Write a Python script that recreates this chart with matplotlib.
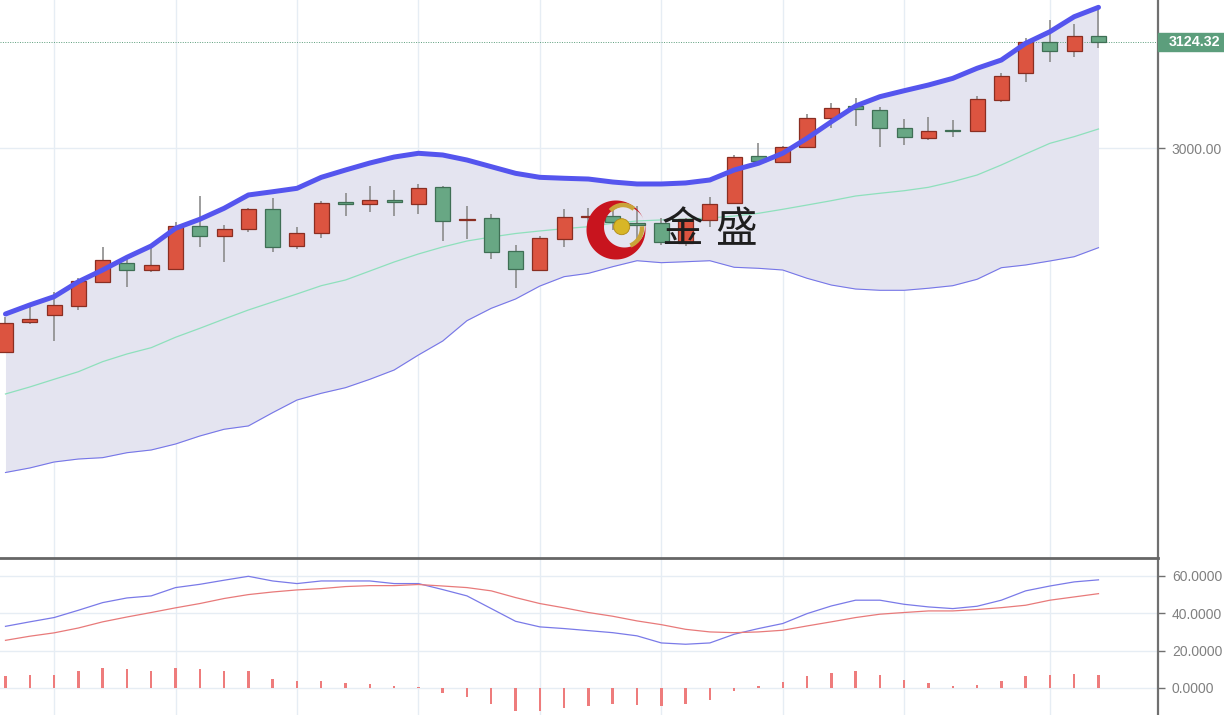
import numpy as np
import matplotlib
matplotlib.use("Agg")
import matplotlib.pyplot as plt
from matplotlib.patches import Circle, Rectangle, Arc, PathPatch
from matplotlib.path import Path
import matplotlib.transforms as mtransforms

# ---- price candles (index 0..45) ----
opens = [2761.1, 2795.9, 2804.1, 2815.0, 2843.2, 2865.5, 2856.9, 2858.1, 2908.5, 2897.1,
         2905.0, 2928.5, 2885.1, 2900.0, 2937.0, 2934.0, 2939.4, 2934.7, 2954.6, 2915.9,
         2917.6, 2879.2, 2856.9, 2892.9, 2919.1, 2920.2, 2912.4, 2912.4, 2888.2, 2915.6,
         2935.1, 2991.0, 2983.2, 3001.5, 3034.8, 3049.3, 3044.6, 3023.1, 3012.1, 3020.8,
         3019.9, 3056.3, 3087.6, 3124.0, 3114.1, 3131.7]
highs = [2802.1, 2818.2, 2831.5, 2847.5, 2884.2, 2874.5, 2887.4, 2913.6, 2943.7, 2909.7,
         2930.0, 2941.0, 2907.0, 2938.2, 2947.6, 2955.8, 2950.7, 2957.4, 2955.0, 2932.0,
         2922.6, 2886.2, 2896.8, 2928.1, 2929.3, 2933.1, 2932.0, 2917.6, 2917.6, 2942.9,
         2991.8, 3005.5, 3002.7, 3039.5, 3053.1, 3058.3, 3048.4, 3034.0, 3036.7, 3032.8,
         3061.3, 3088.3, 3128.7, 3150.1, 3145.1, 3166.5]
lows = [2760.5, 2793.6, 2774.0, 2810.0, 2842.0, 2836.6, 2854.2, 2856.9, 2883.5, 2865.9,
        2901.8, 2878.4, 2881.2, 2894.1, 2920.2, 2925.3, 2920.2, 2922.9, 2891.3, 2892.9,
        2869.8, 2835.5, 2856.0, 2884.2, 2908.5, 2903.8, 2886.2, 2886.2, 2885.1, 2907.7,
        2934.5, 2980.1, 2982.4, 3001.0, 3023.8, 3026.2, 3000.8, 3003.5, 3009.4, 3012.5,
        3018.4, 3054.3, 3077.8, 3101.2, 3106.4, 3117.6]
closes = [2795.1, 2799.4, 2815.9, 2844.0, 2868.6, 2856.9, 2862.8, 2908.5, 2897.1, 2904.6,
          2928.5, 2883.9, 2900.7, 2935.5, 2934.0, 2939.4, 2936.3, 2953.4, 2914.7, 2916.7,
          2878.4, 2858.1, 2894.1, 2918.7, 2919.9, 2913.6, 2909.7, 2890.1, 2916.4, 2934.3,
          2989.1, 2984.4, 3001.5, 3034.8, 3046.6, 3045.4, 3023.8, 3012.5, 3020.3, 3019.9,
          3057.1, 3084.8, 3124.0, 3114.1, 3131.4, 3124.32]

# ---- bollinger bands ----
boll_upper = [2805.3, 2815.9, 2825.6, 2843.2, 2856.9, 2871.8, 2885.1, 2905.8, 2916.4, 2929.3,
              2944.9, 2948.7, 2952.7, 2965.6, 2974.2, 2982.4, 2989.4, 2993.8, 2991.8, 2985.9,
              2978.1, 2970.3, 2965.6, 2964.5, 2963.6, 2960.1, 2957.8, 2957.8, 2959.0, 2962.5,
              2974.2, 2982.1, 2993.8, 3011.4, 3030.8, 3049.3, 3060.2, 3067.2, 3073.9, 3081.7,
              3093.5, 3103.2, 3122.8, 3136.4, 3154.0, 3165.0]
boll_mid = [2711.5, 2719.7, 2728.7, 2737.6, 2749.4, 2758.4, 2765.8, 2778.0, 2788.5, 2799.4,
            2810.0, 2819.4, 2828.8, 2838.5, 2845.2, 2855.7, 2866.3, 2875.7, 2883.9, 2890.9,
            2895.6, 2899.7, 2902.7, 2905.4, 2907.7, 2911.7, 2914.4, 2915.6, 2916.7, 2917.9,
            2920.2, 2923.4, 2928.1, 2933.1, 2938.2, 2943.7, 2946.9, 2949.9, 2953.9, 2960.5,
            2968.3, 2980.1, 2993.0, 3005.5, 3013.3, 3022.3]
boll_lower = [2619.4, 2624.7, 2631.7, 2635.2, 2636.8, 2642.6, 2645.8, 2652.8, 2662.2, 2670.1,
              2674.0, 2689.6, 2704.4, 2712.3, 2718.9, 2728.7, 2739.6, 2757.2, 2773.6, 2797.5,
              2812.0, 2822.9, 2838.1, 2849.1, 2853.0, 2860.8, 2867.8, 2865.5, 2866.6, 2867.8,
              2860.1, 2858.9, 2856.9, 2847.2, 2839.3, 2834.6, 2833.1, 2833.1, 2835.5, 2838.5,
              2846.0, 2859.6, 2862.8, 2867.5, 2872.5, 2883.1]

# ---- lower indicator ----
ind_fast = [33.0, 35.4, 37.7, 41.6, 45.7, 48.2, 49.3, 53.75, 55.5, 57.7,
            59.8, 57.3, 55.9, 57.3, 57.3, 57.3, 55.9, 55.9, 52.7, 49.3,
            42.5, 35.7, 32.7, 31.8, 30.7, 29.6, 27.9, 24.1, 23.4, 24.1,
            28.75, 31.8, 34.5, 39.8, 43.9, 47.0, 47.0, 44.8, 43.4, 42.5,
            43.75, 47.0, 52.0, 54.6, 56.8, 57.9]
ind_slow = [25.5, 27.7, 29.5, 32.1, 35.4, 38.0, 40.4, 42.9, 45.2, 47.9,
            50.0, 51.4, 52.5, 53.2, 54.3, 54.8, 54.8, 55.4, 54.6, 53.75,
            52.0, 48.4, 45.2, 42.9, 40.4, 38.4, 35.9, 33.9, 31.4, 30.0,
            29.6, 30.0, 30.9, 33.2, 35.4, 37.7, 39.5, 40.4, 41.25, 41.25,
            42.0, 43.0, 44.3, 47.0, 48.75, 50.5]
ind_hist = [6.4, 7.1, 7.1, 8.9, 10.7, 10.2, 8.9, 10.7, 10.2, 8.9,
            8.9, 5.0, 3.6, 3.6, 2.9, 2.1, 0.9, 0.4, -2.7, -4.6,
            -8.75, -12.3, -12.5, -10.7, -9.6, -8.4, -8.9, -9.6, -8.4, -6.6,
            -1.6, 1.1, 3.2, 6.4, 8.2, 8.9, 7.1, 4.1, 2.9, 1.1,
            1.8, 3.6, 6.4, 7.1, 7.7, 6.8]

grid_idx = [2, 7, 12, 17, 22, 27, 32, 37, 43]
last_price = 3124.32

GRID = "#e6edf4"
AXIS = "#707070"
LABEL = "#808080"
UP_FILL, UP_EDGE = "#dc5440", "#8a2e22"
DN_FILL, DN_EDGE = "#68a784", "#3f6f55"
plt.rcParams["font.family"] = ["Liberation Sans", "DejaVu Sans"]

W, H = 1224, 715
fig = plt.figure(figsize=(W / 100, H / 100), dpi=100)
plot_w = 1158 / W
low_h = 157 / H
ax = fig.add_axes([0, low_h, plot_w, 1 - low_h])
ax2 = fig.add_axes([0, 0, plot_w, low_h], sharex=ax)

x = np.arange(len(closes))
o = np.array(opens)
c = np.array(closes)
up = c >= o

# bands
ax.fill_between(x, boll_lower, boll_upper, color="#e4e4f0", zorder=1, linewidth=0)
ax.plot(x, boll_mid, color="#8ee0bc", lw=0.9, zorder=2)
ax.plot(x, boll_lower, color="#7676e8", lw=0.8, zorder=2)

# candles
ax.vlines(x, lows, highs, color="#8c8c8c", lw=1.2, zorder=3)
body_lo = np.minimum(o, c)
body_h = np.maximum(np.abs(c - o), 0.6)
ax.bar(x[up], body_h[up], bottom=body_lo[up], width=0.62, color=UP_FILL,
       edgecolor=UP_EDGE, linewidth=0.9, zorder=4)
ax.bar(x[~up], body_h[~up], bottom=body_lo[~up], width=0.62, color=DN_FILL,
       edgecolor=DN_EDGE, linewidth=0.9, zorder=4)

ax.plot(x, boll_upper, color="#5555ee", lw=3.6, zorder=5, solid_capstyle="round")

ax.axhline(last_price, color="#5c9e7c", lw=0.7, ls=(0, (1, 1.5)), zorder=2)

ax.set_xlim(-0.226, 47.45)
ax.set_ylim(2519.1, 3173.6)
ax.set_yticks([3000])
ax.yaxis.set_major_formatter(matplotlib.ticker.FormatStrFormatter("%.2f"))
ax.set_xticks(grid_idx)
ax.grid(True, color=GRID, lw=1)
ax.set_axisbelow(True)

# lower panel
ax2.bar(x, ind_hist, width=0.1, color="#ee7c7c", zorder=3)
ax2.plot(x, ind_fast, color="#7a7ae8", lw=0.9, zorder=4)
ax2.plot(x, ind_slow, color="#e87a7a", lw=0.9, zorder=4)
ax2.set_ylim(-14.5, 69.6)
ax2.set_yticks([0, 20, 40, 60])
ax2.yaxis.set_major_formatter(matplotlib.ticker.FormatStrFormatter("%.4f"))
ax2.grid(True, color=GRID, lw=1)
ax2.set_axisbelow(True)

for a in (ax, ax2):
    for s in ("left", "bottom", "top"):
        a.spines[s].set_visible(False)
    a.spines["right"].set_color(AXIS)
    a.spines["right"].set_linewidth(1.6)
    a.yaxis.tick_right()
    a.tick_params(axis="y", direction="out", length=5, width=1, color=AXIS,
                  pad=5, labelsize=10, labelcolor=LABEL)
    a.tick_params(axis="x", length=0, labelbottom=False)
ax2.spines["top"].set_visible(True)
ax2.spines["top"].set_color("#666666")
ax2.spines["top"].set_linewidth(2)

# last price tag
tr = mtransforms.blended_transform_factory(ax.transAxes, ax.transData)
ax.add_patch(Rectangle((1.0, last_price - 10), 0.1, 20, transform=tr,
                       color="#5c9e7c", clip_on=False, zorder=6))
ax.text(1.0 + 11 / 1158, last_price, f"{last_price:.2f}", transform=tr,
        color="white", fontsize=10.3, fontweight="bold", va="center", ha="left",
        clip_on=False, zorder=7)

# watermark logo (pixel coordinates, y downwards)
lg = fig.add_axes([0, 0, 1, 1], zorder=10)
lg.set_xlim(0, W)
lg.set_ylim(H, 0)
lg.axis("off")
lg.patch.set_alpha(0)
t = np.linspace(0, 2 * np.pi, 120)
outer = np.column_stack([616 + 29.5 * np.cos(t), 230 + 29.5 * np.sin(t)])
inner = np.column_stack([624.5 + 20.5 * np.cos(-t), 227 + 20.5 * np.sin(-t)])
verts = np.vstack([outer, inner])
codes = ([Path.MOVETO] + [Path.LINETO] * (len(outer) - 1) +
         [Path.MOVETO] + [Path.LINETO] * (len(inner) - 1))
lg.add_patch(PathPatch(Path(verts, codes), facecolor="#c8141e", edgecolor="none"))
lg.add_patch(Arc((623, 222), 34, 34, theta1=222, theta2=310, color="#c9a43a", lw=3.2))
lg.add_patch(Arc((623, 228), 38, 38, theta1=-5, theta2=67, color="#c9a43a", lw=3.2))
lg.add_patch(Circle((621.7, 226.7), 8, facecolor="#d8b626", edgecolor="#b08a18", lw=0.6))
for ch, cx in (("金", 683), ("盛", 736)):
    lg.text(cx, 231, ch, fontsize=30, family=["Noto Sans CJK SC", "DejaVu Sans"],
            color="#1e1e1e", ha="center", va="center")

fig.savefig("out.png", dpi=100)
